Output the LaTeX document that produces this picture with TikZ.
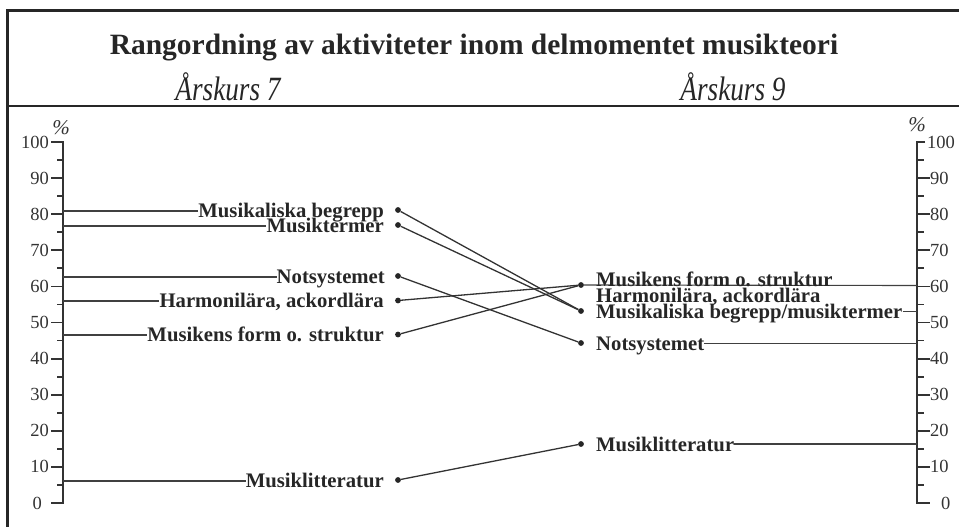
\documentclass[tikz,border=0pt]{standalone}
\usepackage{fontspec}
\setmainfont{Liberation Serif}
\begin{document}
\begin{tikzpicture}[x=1pt,y=-1pt,
  frame/.style={line width=2.4pt, draw=black!85},
  axisline/.style={line width=1.8pt, draw=black!80},
  lead/.style={line width=1.1pt, draw=black!75},
  link/.style={line width=1.3pt, draw=black!80},
  lbl/.style={font=\fontsize{20.7}{21}\selectfont\bfseries, inner sep=0pt, text=black!85},
  num/.style={font=\fontsize{18.5}{18}\selectfont, inner sep=0pt, text=black!80},
  pct/.style={font=\fontsize{21}{21}\selectfont\itshape, inner sep=0pt, text=black!80},
  grade/.style={font=\fontsize{34}{34}\selectfont\itshape, inner sep=0pt, text=black!85, anchor=base},
  dot/.style={circle, fill=black!85, inner sep=0pt, minimum size=5.8pt},
]
\useasboundingbox (0,0) rectangle (959,527);

% frame and header rule
\draw[frame] (965,10.5) -- (7.3,10.5) -- (7.3,535);
\draw[frame] (7.3,106) -- (965,106);

% header
\node[font=\fontsize{29.5}{30}\selectfont\bfseries, anchor=base, inner sep=0pt, text=black!85]
  (title) at (474,55) {Rangordning av aktiviteter inom delmomentet musikteori};
\node[grade] (g7) at (228,100) {\scalebox{0.8}[1]{Årskurs 7}};
\node[grade] (g9) at (733,100) {\scalebox{0.8}[1]{Årskurs 9}};

% left scale (0 at y=503, 100 at y=142)
\draw[axisline] (51,142) -- (63,142) -- (63,503) -- (51,503);
\foreach \v in {10,20,...,90} {
  \pgfmathsetmacro\yy{503-3.61*\v}
  \draw[axisline] (51,\yy) -- (63,\yy);
  \node[num, anchor=east] at (49,\yy) {\v};
}
\foreach \v in {5,15,...,95} {
  \pgfmathsetmacro\yy{503-3.61*\v}
  \draw[axisline] (57,\yy) -- (63,\yy);
}
\node[num, anchor=east] at (49,142) {100};
\node[num, anchor=east] at (42,503) {0};
\node[pct] (pl) at (61,128) {\%};

% right scale
\draw[axisline] (925,142) -- (917,142) -- (917,503) -- (930,503);
\foreach \v in {10,20,...,90} {
  \pgfmathsetmacro\yy{503-3.61*\v}
  \draw[axisline] (917,\yy) -- (930,\yy);
  \node[num, anchor=west] at (930,\yy) {\v};
}
\foreach \v in {5,15,...,95} {
  \pgfmathsetmacro\yy{503-3.61*\v}
  \draw[axisline] (917,\yy) -- (924,\yy);
}
\node[num, anchor=west] at (927,142) {100};
\node[num, anchor=west] at (941,503) {0};
\node[pct] (pr) at (917,125) {\%};

% Årskurs 7: labels, points and leaders to the scale
\node[lbl, anchor=base east] (lMB) at (384,217) {Musikaliska begrepp};
\node[lbl, anchor=base east] (lMT) at (384,232) {Musiktermer};
\node[lbl, anchor=base east] (lNS) at (385,283) {Notsystemet};
\node[lbl, anchor=base east] (lHA) at (384,307.5) {Harmonilära, ackordlära};
\node[lbl, anchor=base east] (lMF) at (384,341.5) {Musikens form o. struktur};
\node[lbl, anchor=base east] (lML) at (384,487) {Musiklitteratur};

\node[dot] (dMB) at (398,210) {};
\node[dot] (dMT) at (398,225) {};
\node[dot] (dNS) at (398,276) {};
\node[dot] (dHA) at (398,300.5) {};
\node[dot] (dMF) at (398,334.5) {};
\node[dot] (dML) at (398,480) {};

\coordinate (aMB) at (63,211);
\coordinate (aMT) at (63,226);
\coordinate (aNS) at (63,277);
\coordinate (aHA) at (63,301);
\coordinate (aMF) at (63,335);
\coordinate (aML) at (63,481);
\foreach \k in {MB,MT,NS,HA,MF,ML} {
  \draw[lead] (a\k) -- (a\k -| l\k.west);
}

% Årskurs 9: points, leaders and labels
\node[dot] (rTop) at (581,285) {};
\node[dot] (rMBM) at (581,311) {};
\node[dot] (rNS) at (581,343) {};
\node[dot] (rML) at (581,444) {};

\coordinate (bTop) at (917,285.5);
\coordinate (bMBM) at (917,311.5);
\coordinate (bNS) at (917,343.5);
\coordinate (bML) at (917,444);

\draw[lead] (rTop) -- (bTop);

\node[lbl, anchor=base west] (rlMF) at (596,286) {Musikens form o. struktur};
\node[lbl, anchor=base west] (rlHA) at (596,302) {Harmonilära, ackordlära};
\node[lbl, anchor=base west] (rlMBM) at (596,318) {Musikaliska begrepp/musiktermer};
\node[lbl, anchor=base west] (rlNS) at (596,350) {Notsystemet};
\node[lbl, anchor=base west] (rlML) at (596,451) {Musiklitteratur};

\draw[lead] (rlMBM.east |- bMBM) -- (bMBM);
\draw[lead] (rlNS.east |- bNS) -- (bNS);
\draw[lead] (rlML.east |- bML) -- (bML);

% rank changes between the grades
\draw[link] (dMB) -- (rMBM);
\draw[link] (dMT) -- (rMBM);
\draw[link] (dNS) -- (rNS);
\draw[link] (dHA) -- (rTop);
\draw[link] (dMF) -- (rTop);
\draw[link] (dML) -- (rML);
\end{tikzpicture}
\end{document}
